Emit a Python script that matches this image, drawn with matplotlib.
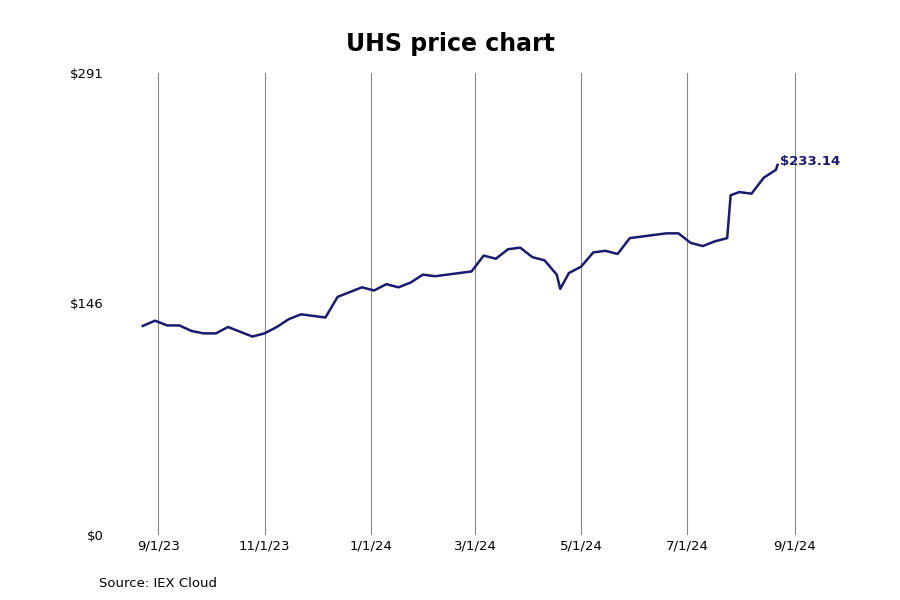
import pandas as pd
import matplotlib.pyplot as plt

dates = ["2023-08-23", "2023-08-30", "2023-09-06", "2023-09-13", "2023-09-20", "2023-09-27",
         "2023-10-04", "2023-10-11", "2023-10-18", "2023-10-25", "2023-11-01", "2023-11-08",
         "2023-11-15", "2023-11-22", "2023-11-29", "2023-12-06", "2023-12-13", "2023-12-20",
         "2023-12-27", "2024-01-03", "2024-01-10", "2024-01-17", "2024-01-24", "2024-01-31",
         "2024-02-07", "2024-02-14", "2024-02-21", "2024-02-28", "2024-03-06", "2024-03-13",
         "2024-03-20", "2024-03-27", "2024-04-03", "2024-04-10", "2024-04-17", "2024-04-19",
         "2024-04-24", "2024-05-01", "2024-05-08", "2024-05-15", "2024-05-22", "2024-05-29",
         "2024-06-05", "2024-06-12", "2024-06-19", "2024-06-26", "2024-07-03", "2024-07-10",
         "2024-07-17", "2024-07-24", "2024-07-26", "2024-07-31", "2024-08-07", "2024-08-14",
         "2024-08-21", "2024-08-22"]
prices = [131.7, 135, 132, 132, 128.5, 127, 127, 131, 128, 125, 127, 131,
          136, 139, 138, 137, 150, 153, 156, 154, 158, 156, 159, 164,
          163, 164, 165, 166, 176, 174, 180, 181, 175, 173, 164, 155,
          165, 169, 178, 179, 177, 187, 188, 189, 190, 190, 184, 182,
          185, 187, 214, 216, 215, 225, 230, 233.14]
tick_dates = ["2023-09-01", "2023-11-01", "2024-01-01", "2024-03-01", "2024-05-01", "2024-07-01", "2024-09-01"]
tick_labels = ["9/1/23", "11/1/23", "1/1/24", "3/1/24", "5/1/24", "7/1/24", "9/1/24"]
y_ticks = [0, 146, 291]

df = pd.DataFrame({"date": pd.to_datetime(dates), "price": prices})
navy = "#1a1a6e"

fig = plt.figure(figsize=(9, 6), dpi=100)
ax = fig.add_axes([115 / 900, 65 / 600, 720 / 900, 462 / 600])
ax.plot(df["date"], df["price"], color=navy, linewidth=1.8)

ticks = pd.to_datetime(tick_dates)
for t in ticks:
    ax.axvline(t, color="#888888", linewidth=0.8, zorder=0)
ax.set_xticks(ticks)
ax.set_xticklabels(tick_labels, fontsize=9.5)
ax.set_yticks(y_ticks)
ax.set_yticklabels([f"${v}" for v in y_ticks], fontsize=9.5)
ax.set_xlim(pd.Timestamp("2023-08-07"), pd.Timestamp("2024-09-24"))
ax.set_ylim(0, 291)
ax.tick_params(length=0)
ax.tick_params(axis="y", pad=8)
for s in ax.spines.values():
    s.set_visible(False)

last = df.iloc[-1]
ax.annotate(f"${last['price']:.2f}", (last["date"], last["price"]), xytext=(2, 0),
            textcoords="offset points", color=navy, fontweight="bold", fontsize=9.5)

fig.text(0.5, 0.915, "UHS price chart", ha="center", fontsize=17, fontweight="bold")
fig.text(99 / 900, 0.022, "Source: IEX Cloud", fontsize=9.5)
fig.savefig("out.png")
